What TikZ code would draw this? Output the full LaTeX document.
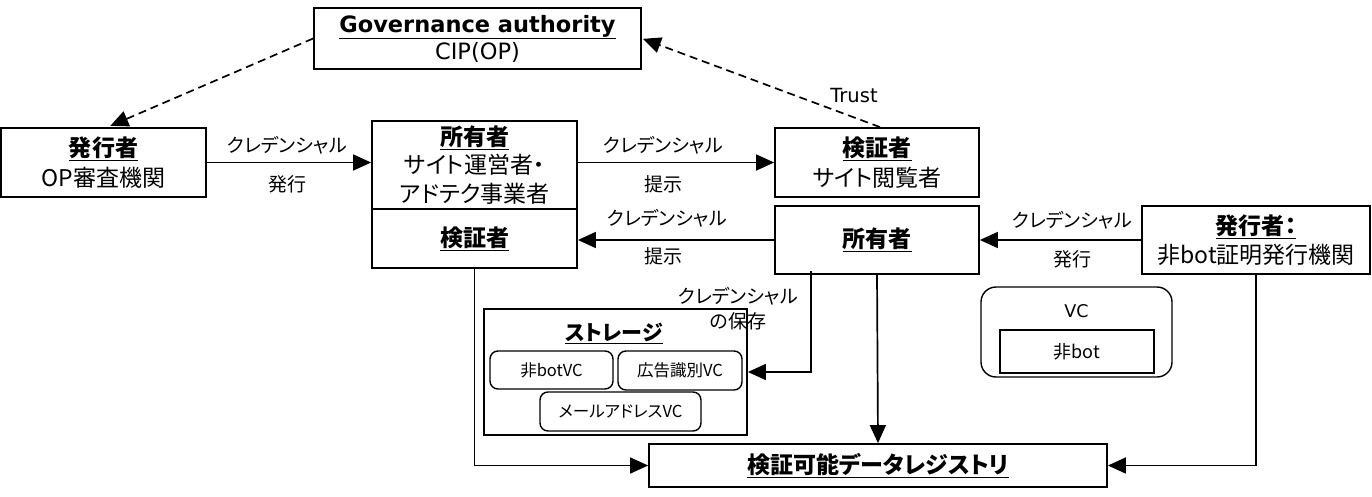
\documentclass[tikz,border=0pt]{standalone}
\usepackage{fontspec}
\setmainfont{Noto Sans CJK JP}[RawFeature={+palt}]
\newfontfamily\lat{DejaVu Sans}
\usetikzlibrary{arrows.meta,calc}
\newcommand\ttl[1]{\underline{\textbf{#1}}}
\begin{document}
\begin{tikzpicture}[x=1pt,y=-1pt,
  box/.style={draw, line width=1.8pt, inner sep=0pt, align=center, font=\fontsize{23}{29.5}\selectfont},
  rbox/.style={draw, line width=1.4pt, rounded corners=8pt, inner sep=0pt, align=center, font=\fontsize{16.5}{20}\selectfont},
  conn/.style={line width=1.7pt, -{Triangle[length=18pt,width=16pt]}},
  dconn/.style={conn, dash pattern=on 8pt off 5pt},
  lbl/.style={font=\fontsize{19}{25}\selectfont, inner sep=0pt, align=center}]
\fill[white] (0,0) rectangle (1372,497);
\useasboundingbox (0,0) rectangle (1372,497);
% boxes
\node[box, minimum width=327pt, minimum height=61pt, font=\lat\fontsize{22.5}{27}\selectfont] (gov) at (477.5,38.5) {\ttl{Governance authority}\\CIP(OP)};
\node[box, minimum width=205pt, minimum height=69pt] (iss1) at (103.5,162.5) {\ttl{発行者}\\OP審査機関};
\node[box, minimum width=205pt, minimum height=88pt, font=\fontsize{23}{28.5}\selectfont] (own1) at (474.5,165) {\ttl{所有者}\\サイト運営者・\\アドテク事業者};
\node[box, minimum width=205pt, minimum height=59pt] (ver1) at (474.5,238.5) {\ttl{検証者}};
\node[box, minimum width=204pt, minimum height=69pt] (ver2) at (877,162.5) {\ttl{検証者}\\サイト閲覧者};
\node[box, minimum width=204pt, minimum height=68pt] (own2) at (877,240) {\ttl{所有者}};
\node[box, minimum width=228pt, minimum height=68pt] (iss2) at (1256,240) {\ttl{発行者：}\\非bot証明発行機関};
\node[box, minimum width=263pt, minimum height=126pt] (stor) at (615.5,372) {};
\node[lbl, font=\fontsize{21}{29}\selectfont] (stortitle) at (614,333) {\ttl{ストレージ}};
\node[rbox, minimum width=123pt, minimum height=38pt] (nbvc) at (551.5,370) {非botVC};
\node[rbox, minimum width=124pt, minimum height=39pt] (advc) at (680,370.5) {広告識別VC};
\node[rbox, minimum width=161pt, minimum height=39pt] (mavc) at (620.5,411.5) {メールアドレスVC};
\node[rbox, minimum width=191pt, minimum height=90pt, rounded corners=15pt] (vc) at (1076.5,332) {};
\node[lbl, font=\lat\fontsize{17.5}{22}\selectfont] (vct) at (1076.5,311) {VC};
\node[box, minimum width=154pt, minimum height=43pt, line width=1.6pt, font=\fontsize{18}{22}\selectfont] (nb) at (1077,351.5) {非bot};
\node[box, minimum width=458pt, minimum height=43pt] (reg) at (878,465.5) {\ttl{検証可能データレジストリ}};
% connectors
\draw[dconn, shorten >=3pt] (gov.west) -- ([xshift=4pt]iss1.north);
\draw[dconn, shorten >=1pt] ([xshift=3pt]ver2.north) -- (gov.east);
\node[lbl, font=\lat\fontsize{19.5}{25}\selectfont] (trust) at (854,96) {Trust};
\draw[conn] (iss1.east) -- (iss1.east -| own1.west);
\node[lbl] (l1a) at (287,145) {クレデンシャル};
\node[lbl] (l1b) at (287,184) {発行};
\draw[conn] (ver2.west -| own1.east) -- (ver2.west);
\node[lbl] (l2a) at (663,145) {クレデンシャル};
\node[lbl] (l2b) at (663,184) {提示};
\draw[conn] (own2.west) -- (own2.west -| ver1.east);
\node[lbl] (l3a) at (667,218) {クレデンシャル};
\node[lbl] (l3b) at (663,256) {提示};
\draw[conn] (iss2.west) -- (own2.east);
\node[lbl] (l4a) at (1072,220) {クレデンシャル};
\node[lbl] (l4b) at (1072,259) {発行};
\draw[conn] ([xshift=-66pt,yshift=4pt]own2.south) |- (stor.east);
\node[lbl] (l5) at (738,309) {クレデンシャル\\の保存};
\draw[conn] (own2.south) -- (reg.north);
\draw[conn] (ver1.south) |- (reg.west);
\draw[conn] (iss2.south) |- (reg.east);
\end{tikzpicture}
\end{document}
